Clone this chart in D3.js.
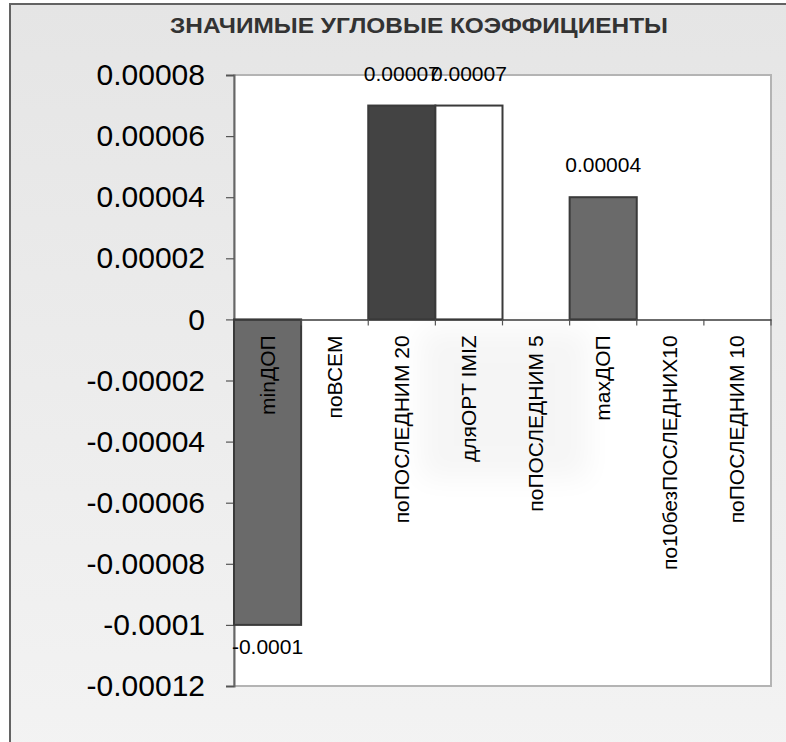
<!DOCTYPE html>
<html>
<head>
<meta charset="utf-8">
<script src="https://cdn.jsdelivr.net/npm/d3@7"></script>
<style>
  html, body { margin: 0; padding: 0; background: #fff; }
  svg { display: block; }
  text { font-family: "Liberation Sans", Arial, sans-serif; }
</style>
</head>
<body>
<svg id="chart" width="786" height="742"></svg>
<script>
// Slope coefficients by method
const categories = ["minДОП", "поВСЕМ", "поПОСЛЕДНИМ 20", "дляOPT IMIZ", "поПОСЛЕДНИМ 5", "maxДОП", "по10безПОСЛЕДНИХ10", "поПОСЛЕДНИМ 10"];
const values = [-0.0001, null, 0.00007, 0.00007, null, 0.00004, null, null];
const valueLabels = ["-0.0001", null, "0.00007", "0.00007", null, "0.00004", null, null];
const barFills = ["#6a6a6a", null, "#434343", "#ffffff", null, "#6a6a6a", null, null];
const tickValues = [0.00008, 0.00006, 0.00004, 0.00002, 0, -0.00002, -0.00004, -0.00006, -0.00008, -0.0001, -0.00012];
const tickLabels = ["0.00008", "0.00006", "0.00004", "0.00002", "0", "-0.00002", "-0.00004", "-0.00006", "-0.00008", "-0.0001", "-0.00012"];
const title = "ЗНАЧИМЫЕ УГЛОВЫЕ КОЭФФИЦИЕНТЫ";

const svg = d3.select("#chart");
const W = 786, H = 742;
const plot = { left: 234, right: 771, top: 75, bottom: 686 };

// Chart area background with a soft vertical gradient and frame
const defs = svg.append("defs");
const bg = defs.append("linearGradient").attr("id", "bg").attr("x1", 0).attr("y1", 0).attr("x2", 0).attr("y2", 1);
bg.append("stop").attr("offset", "0%").attr("stop-color", "#e5e5e5");
bg.append("stop").attr("offset", "100%").attr("stop-color", "#f3f3f3");
const blur = defs.append("filter").attr("id", "soft").attr("x", "-50%").attr("y", "-50%").attr("width", "200%").attr("height", "200%");
blur.append("feGaussianBlur").attr("stdDeviation", 14);

svg.append("rect").attr("x", 0).attr("y", 0).attr("width", W).attr("height", H).attr("fill", "#ffffff");
svg.append("rect")
  .attr("x", 10).attr("y", 4).attr("width", W + 20).attr("height", H + 20)
  .attr("fill", "url(#bg)").attr("stroke", "#636363").attr("stroke-width", 2);

// Title
svg.append("text")
  .attr("x", 419).attr("y", 33)
  .attr("text-anchor", "middle")
  .attr("font-size", 22).attr("font-weight", "bold")
  .attr("fill", "#333333")
  .attr("textLength", 498).attr("lengthAdjust", "spacingAndGlyphs")
  .text(title);

// Scales
const x = d3.scaleBand().domain(categories).range([plot.left, plot.right]).padding(0);
const y = d3.scaleLinear().domain([-0.00012, 0.00008]).range([plot.bottom, plot.top]);

// Plot area
svg.append("rect")
  .attr("x", plot.left).attr("y", plot.top)
  .attr("width", plot.right - plot.left).attr("height", plot.bottom - plot.top)
  .attr("fill", "#ffffff").attr("stroke", "#b4b4b4").attr("stroke-width", 2);

// Faint shading inside the plot
svg.append("rect")
  .attr("x", x(categories[3]) - 15).attr("y", y(0) + 10)
  .attr("width", x.bandwidth() * 2.5).attr("height", 150)
  .attr("fill", "#000").attr("opacity", 0.035)
  .attr("filter", "url(#soft)");

// Y axis
const yAxis = d3.axisLeft(y)
  .tickValues(tickValues)
  .tickFormat((d, i) => tickLabels[i])
  .tickSize(8).tickPadding(21);
const gy = svg.append("g").attr("transform", `translate(${plot.left},0)`).call(yAxis);
gy.select(".domain").attr("stroke", "#666666").attr("stroke-width", 2);
gy.selectAll(".tick line").attr("stroke", "#555555").attr("stroke-width", 1.2);
gy.selectAll(".tick text")
  .attr("font-family", "Liberation Sans, Arial, sans-serif")
  .attr("font-size", 30).attr("fill", "#000");

// Bars
const data = categories.map((c, i) => ({ c, v: values[i], label: valueLabels[i], fill: barFills[i] }))
  .filter(d => d.v !== null);
svg.append("g").selectAll("rect").data(data).join("rect")
  .attr("x", d => x(d.c))
  .attr("y", d => y(Math.max(0, d.v)))
  .attr("width", x.bandwidth())
  .attr("height", d => Math.abs(y(d.v) - y(0)))
  .attr("fill", d => d.fill)
  .attr("stroke", "#3a3a3a").attr("stroke-width", 2);

// Category axis at zero
const xAxis = d3.axisBottom(x).tickSize(0).tickFormat("");
const gx = svg.append("g").attr("transform", `translate(0,${y(0)})`).call(xAxis);
gx.select(".domain").attr("stroke", "#3a3a3a").attr("stroke-width", 1.5);
// boundary tick marks between categories
const bounds = categories.map(c => x(c)).concat([plot.right]).slice(1);
svg.append("g").selectAll("line").data(bounds).join("line")
  .attr("x1", d => d).attr("x2", d => d)
  .attr("y1", y(0)).attr("y2", y(0) + 6)
  .attr("stroke", "#555555").attr("stroke-width", 1.2);

// Category labels, rotated, reading upward
svg.append("g").selectAll("text").data(categories).join("text")
  .attr("transform", d => `translate(${x(d) + x.bandwidth() / 2 + 7},${y(0) + 16}) rotate(-90)`)
  .attr("text-anchor", "end")
  .attr("font-size", 21).attr("fill", "#000")
  .text(d => d);

// Value labels
svg.append("g").selectAll("text").data(data).join("text")
  .attr("x", d => x(d.c) + x.bandwidth() / 2)
  .attr("y", d => d.v >= 0 ? y(d.v) - 25 : y(d.v) + 29)
  .attr("text-anchor", "middle")
  .attr("font-size", 21).attr("fill", "#000")
  .text(d => d.label);
</script>
</body>
</html>
